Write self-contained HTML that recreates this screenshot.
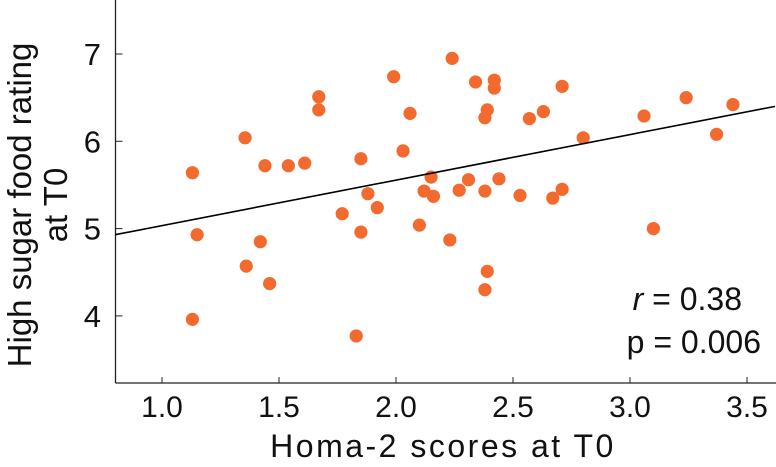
<!DOCTYPE html>
<html><head><meta charset="utf-8"><style>
html,body{margin:0;padding:0;background:#fff;}
svg text{font-family:"Liberation Sans","DejaVu Sans",sans-serif;fill:#111;}
</style></head><body>
<svg id="chart" width="776" height="462" xmlns="http://www.w3.org/2000/svg">
<g id="axes"></g><g id="marks"></g><g id="labels"></g>
</svg>
<script>
const xValues=[1.13,1.15,1.355,1.36,1.42,1.44,1.46,1.54,1.13,1.61,1.67,1.67,1.99,2.24,2.34,2.42,2.42,2.71,2.06,2.39,2.38,2.57,2.63,3.06,3.24,3.44,3.37,2.80,2.03,1.85,2.15,2.31,2.44,2.12,2.16,2.27,2.38,2.53,2.67,2.71,1.88,1.92,1.77,1.85,2.10,2.23,2.39,2.38,1.83,3.10];
const yValues=[5.64,4.93,6.04,4.57,4.85,5.72,4.37,5.72,3.96,5.75,6.51,6.36,6.74,6.95,6.68,6.70,6.61,6.63,6.32,6.36,6.27,6.26,6.34,6.29,6.50,6.42,6.08,6.04,5.89,5.80,5.59,5.56,5.57,5.43,5.37,5.44,5.43,5.38,5.35,5.45,5.40,5.24,5.17,4.96,5.04,4.87,4.51,4.30,3.77,5.00];
const xTicks=[1.0,1.5,2.0,2.5,3.0,3.5];
const xTickLabels=["1.0","1.5","2.0","2.5","3.0","3.5"];
const yTicks=[4,5,6,7];
const yTickLabels=["4","5","6","7"];
const fitLine=[[0.80,4.93],[3.62,6.40]];

const NS="http://www.w3.org/2000/svg";
const X0=115.5,Y0=383;
function sx(v){return 162+(v-1)*234;}
function sy(v){return 54+(7-v)*87.3;}
function mk(tag,attrs,parent,txt){const e=document.createElementNS(NS,tag);for(const k in attrs)e.setAttribute(k,attrs[k]);if(txt!==undefined)e.textContent=txt;parent.appendChild(e);return e;}
const axes=document.getElementById('axes'),marks=document.getElementById('marks'),labels=document.getElementById('labels');
let e=mk('line',{x1:X0,y1:0,x2:X0,y2:Y0,stroke:'#222','stroke-width':1.3},axes);


e=mk('line',{x1:X0,y1:Y0,x2:776,y2:Y0,stroke:'#222','stroke-width':1.3},axes);


xTicks.forEach((t,i)=>{
 const x=sx(t);
 let l=mk('line',{x1:x,y1:Y0,x2:x,y2:Y0-6,stroke:'#222','stroke-width':1},axes);
 
 
 let tx=mk('text',{x:x,y:417,'text-anchor':'middle','font-size':30},axes,xTickLabels[i]);
 
 
});
yTicks.forEach((t,i)=>{
 const y=sy(t);
 let l=mk('line',{x1:X0,y1:y,x2:X0+7,y2:y,stroke:'#222','stroke-width':1},axes);
 
 
 let tx=mk('text',{x:101,y:y+11,'text-anchor':'end','font-size':31},axes,yTickLabels[i]);
 
 
});
xValues.forEach((v,i)=>{
 let c=mk('circle',{cx:sx(v),cy:sy(yValues[i]),r:6.6,fill:'#f26a2e'},marks);
 
 
});
let fl=mk('line',{x1:sx(fitLine[0][0]),y1:sy(fitLine[0][1]),x2:sx(fitLine[1][0]),y2:sy(fitLine[1][1]),stroke:'#000','stroke-width':1.6},marks);


</script>
<svg width="776" height="462" style="position:absolute;left:0;top:0" xmlns="http://www.w3.org/2000/svg">
<text transform="translate(31,205) rotate(-90)" text-anchor="middle" font-size="33" style="font-family:'Liberation Sans',sans-serif" fill="#222">High sugar food rating</text>
<text transform="translate(67,205) rotate(-90)" text-anchor="middle" font-size="33" style="font-family:'Liberation Sans',sans-serif" fill="#222">at T0</text>
<text x="443" y="457" text-anchor="middle" font-size="32" letter-spacing="2.5" style="font-family:'Liberation Sans',sans-serif" fill="#222">Homa-2 scores at T0</text>
<text x="742" y="310" text-anchor="end" font-size="32" style="font-family:'Liberation Sans',sans-serif" fill="#111"><tspan font-style="italic">r</tspan> = 0.38</text>
<text x="761" y="353" text-anchor="end" font-size="32" style="font-family:'Liberation Sans',sans-serif" fill="#111">p = 0.006</text>
</svg>
</body></html>
